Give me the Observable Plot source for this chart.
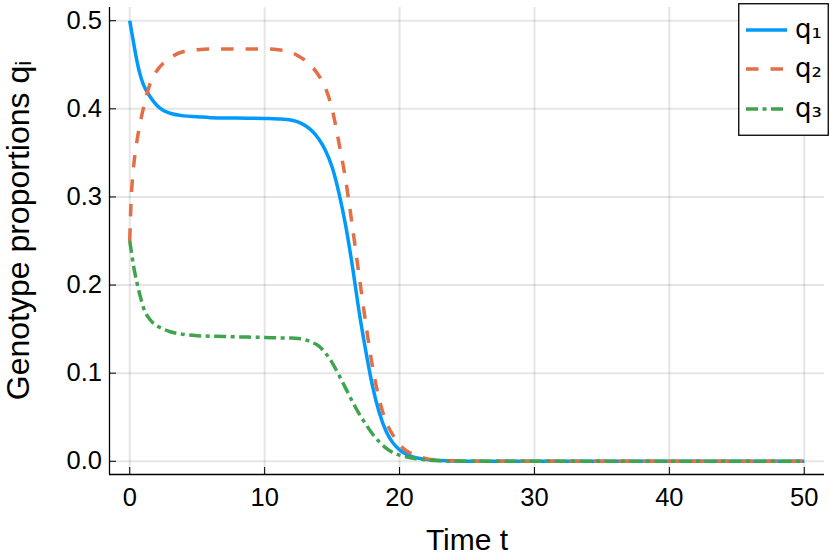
<!DOCTYPE html>
<html><head><meta charset="utf-8">
<script src="https://cdn.jsdelivr.net/npm/d3@7"></script>
<script src="https://cdn.jsdelivr.net/npm/@observablehq/plot@0.6"></script>
<style>
body{margin:0;background:#fff;}
#wrap{position:relative;width:830px;height:556px;font-family:"Liberation Sans",Arial,sans-serif;}
#legend{position:absolute;left:738px;top:3px;}
</style></head><body>
<div id="wrap"></div>
<script>
const t  = [0,0.1,0.25,0.5,0.75,1,1.5,2,2.5,3,4,5,6,8,10,11,12,12.5,13,13.5,14,14.5,15,15.5,16,16.5,17,17.5,18,18.5,19,19.5,20,20.5,21,22,23,24,26,30,35,40,45,50];
const q1 = [0.500,0.491,0.478,0.457,0.440,0.428,0.414,0.404,0.398,0.395,0.392,0.391,0.390,0.3895,0.389,0.3885,0.387,0.385,0.381,0.375,0.366,0.353,0.334,0.305,0.268,0.222,0.170,0.125,0.085,0.055,0.034,0.021,0.013,0.008,0.005,0.002,0.001,0.0004,0.0001,0,0,0,0,0];
const q2 = [0.250,0.295,0.328,0.360,0.382,0.400,0.428,0.443,0.452,0.458,0.465,0.467,0.468,0.468,0.468,0.467,0.464,0.460,0.455,0.448,0.438,0.424,0.400,0.362,0.320,0.267,0.211,0.156,0.107,0.070,0.045,0.030,0.019,0.012,0.008,0.003,0.0012,0.0005,0.0001,0,0,0,0,0];
const q3 = [0.250,0.240,0.2245,0.205,0.189,0.175,0.161,0.154,0.150,0.147,0.144,0.1425,0.142,0.1412,0.1405,0.140,0.1398,0.1393,0.138,0.135,0.131,0.123,0.112,0.098,0.083,0.068,0.054,0.042,0.031,0.022,0.015,0.010,0.007,0.005,0.0035,0.0015,0.0006,0.0002,0,0,0,0,0,0];
const seriesNames = ["q₁","q₂","q₃"];
const seriesColors = ["#009AFA","#E36F47","#3EA44E"];
const seriesDash = [null,"12.5,12","12,4.5,4,4.5"];
const xTicks = [0,10,20,30,40,50];
const yTicks = [0,0.1,0.2,0.3,0.4,0.5];
const xDomain = [-1.5,51.5];
const yDomain = [-0.015,0.515];
const xLabel = "Time t";
const yLabel = "Genotype proportions qᵢ";

const font = "'Liberation Sans', Arial, sans-serif";
const series = [q1,q2,q3].map((vals,i)=>t.map((tt,j)=>({t:tt,q:vals[j],s:seriesNames[i]})));
const lineMarks = series.map((data,i)=>{
  const o = {x:"t",y:"q",stroke:seriesColors[i],strokeWidth:3.5,curve:"monotone-x",strokeLinecap:"butt"};
  if (seriesDash[i]) o.strokeDasharray = seriesDash[i];
  return Plot.line(data,o);
});

const chart = Plot.plot({
  width:830,height:556,marginLeft:109,marginRight:6,marginTop:7,marginBottom:82,
  x:{domain:xDomain}, y:{domain:yDomain},
  style:{fontFamily:font,color:"#000",background:"#fff"},
  marks:[
    Plot.gridX(xTicks,{stroke:"#000",strokeOpacity:0.1,strokeWidth:2}),
    Plot.gridY(yTicks,{stroke:"#000",strokeOpacity:0.1,strokeWidth:2}),
    Plot.ruleX([xDomain[0]],{stroke:"#000",strokeWidth:1.3}),
    Plot.ruleY([yDomain[0]],{stroke:"#000",strokeWidth:1.3}),
    Plot.axisX(xTicks,{tickSize:7,dy:-7,tickFormat:()=>"",label:null}),
    Plot.axisX(xTicks,{tickSize:0,tickPadding:13,fontSize:25.5,label:null,tickFormat:d3.format("d"),fill:"#000"}),
    Plot.axisY(yTicks,{tickSize:7,dx:7,tickFormat:()=>"",label:null}),
    Plot.axisY(yTicks,{tickSize:0,tickPadding:7.5,fontSize:25.5,label:null,tickFormat:d3.format(".1f"),fill:"#000"}),
    ...lineMarks,
    Plot.text([xLabel],{text:d=>d,frameAnchor:"bottom",textAnchor:"middle",lineAnchor:"middle",dy:66,fontSize:30,fill:"#000"}),
    Plot.text([yLabel],{text:d=>d,frameAnchor:"left",textAnchor:"middle",rotate:-90,lineAnchor:"middle",dx:-91,dy:-10.5,fontSize:32,fill:"#000"})
  ]
});
const wrap = document.getElementById("wrap");
wrap.appendChild(chart);

// legend
const leg = d3.create("svg").attr("id","legend").attr("width",91).attr("height",133);
leg.append("rect").attr("x",0.75).attr("y",0.75).attr("width",89.5).attr("height",131.5)
  .attr("fill","#fff").attr("stroke","#000").attr("stroke-width",1.3);
const legY = [27,66,106];
seriesNames.forEach((n,i)=>{
  const ln = leg.append("line").attr("x1",8).attr("x2",49).attr("y1",legY[i]).attr("y2",legY[i])
    .attr("stroke",seriesColors[i]).attr("stroke-width",3.5);
  if (seriesDash[i]) ln.attr("stroke-dasharray",seriesDash[i]);
  leg.append("text").attr("x",57).attr("y",legY[i]+8).attr("font-size",26)
    .attr("font-family","'DejaVu Sans', sans-serif").attr("fill","#000").text(n);
});
wrap.appendChild(leg.node());
</script>
</body></html>
